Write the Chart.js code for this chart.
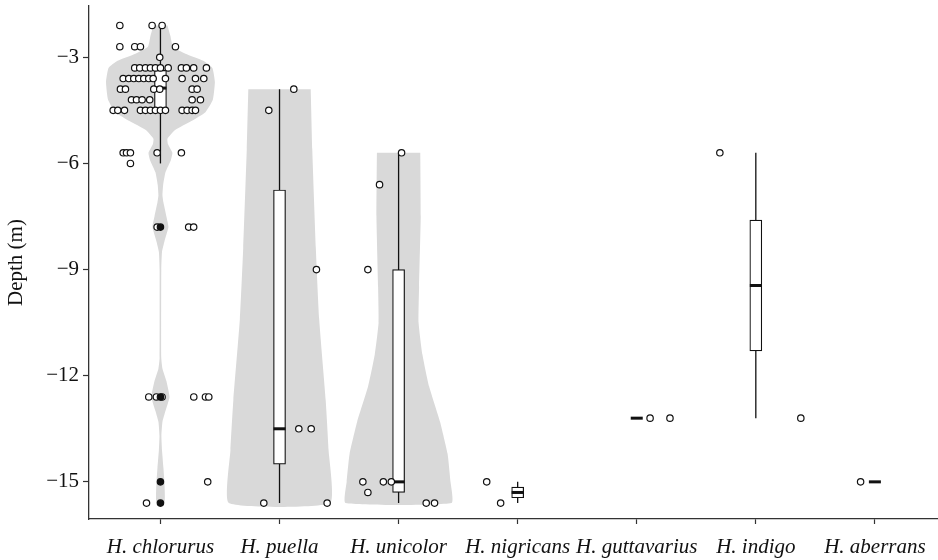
<!DOCTYPE html>
<html>
<head>
<meta charset="utf-8">
<script src="https://cdn.jsdelivr.net/npm/chart.js@4.4.0/dist/chart.umd.min.js"></script>
<style>
  html, body { margin: 0; padding: 0; background: #fff; overflow: hidden; }
  #wrap { width: 938px; height: 560px; position: relative; }
</style>
</head>
<body>
<div id="wrap"><canvas id="chart"></canvas></div>
<script>
const species = ['H. chlorurus', 'H. puella', 'H. unicolor', 'H. nigricans', 'H. guttavarius', 'H. indigo', 'H. aberrans'];
const depthTicks = [-15, -12, -9, -6, -3];

// box plot stats per species (whisker ends, quartiles, median)
const whiskerLow  = [-6.0, -15.6, -15.6, -15.6, -13.2, -13.2, -15.0];
const boxQ1       = [-4.55, -14.5, -15.3, -15.45, -13.2, -11.3, -15.0];
const boxMedian   = [-3.87, -13.5, -15.0, -15.3, -13.2, -9.45, -15.0];
const boxQ3       = [-3.37, -6.75, -9.0, -15.15, -13.2, -7.6, -15.0];
const whiskerHigh = [-2.1, -3.9, -5.7, -15.0, -13.2, -5.7, -15.0];
const chlorurusOutliers = [-7.8, -12.6, -15.0, -15.6];

// violin half widths (category units) at depths
const chlorurusViolinDepth = [-2.1, -2.4, -2.7, -2.9, -3.1, -3.3, -3.7, -4.2, -4.55, -4.8, -5.05, -5.3, -5.45, -5.7, -5.9, -6.25, -6.6, -6.9, -7.1, -7.5, -7.8, -8.2, -8.5, -9.0, -11.5, -11.8, -12.15, -12.6, -13.0, -13.3, -13.7, -14.1, -14.6, -15.05, -15.6];
const chlorurusViolinHalf  = [0.059, 0.084, 0.105, 0.21, 0.36, 0.436, 0.457, 0.44, 0.378, 0.26, 0.126, 0.059, 0.063, 0.10, 0.088, 0.042, 0.023, 0.017, 0.025, 0.05, 0.067, 0.034, 0.013, 0.007, 0.007, 0.017, 0.05, 0.076, 0.042, 0.017, 0.008, 0.013, 0.025, 0.034, 0.034];
const puellaViolinDepth = [-3.9, -5.6, -8.4, -10.4, -12.7, -14.1, -15.6];
const puellaViolinHalf  = [0.262, 0.275, 0.305, 0.333, 0.388, 0.412, 0.425];
const unicolorViolinDepth = [-5.7, -7.5, -9.5, -10.5, -11.4, -12.3, -13.3, -14.2, -15.0, -15.6];
const unicolorViolinHalf  = [0.182, 0.186, 0.172, 0.168, 0.2, 0.256, 0.348, 0.411, 0.436, 0.445];

// jittered observations: depth and horizontal offset from the category
const chlorurusDepth = [-2.1, -2.1, -2.1, -2.7, -2.7, -2.7, -2.7, -3.0,
  -3.3, -3.3, -3.3, -3.3, -3.3, -3.3, -3.3, -3.3, -3.3, -3.3, -3.3,
  -3.6, -3.6, -3.6, -3.6, -3.6, -3.6, -3.6, -3.6, -3.6, -3.6, -3.6,
  -3.9, -3.9, -3.9, -3.9, -3.9, -3.9,
  -4.2, -4.2, -4.2, -4.2, -4.2, -4.2,
  -4.5, -4.5, -4.5, -4.5, -4.5, -4.5, -4.5, -4.5, -4.5, -4.5, -4.5, -4.5, -4.5,
  -5.7, -5.7, -5.7, -5.7, -5.7, -6.0,
  -7.8, -7.8, -7.8,
  -12.6, -12.6, -12.6, -12.6, -12.6, -12.6,
  -15.0, -15.6];
const chlorurusOffset = [-0.341, -0.070, 0.014, -0.341, -0.216, -0.168, 0.126, -0.006,
  -0.216, -0.174, -0.126, -0.084, -0.042, 0, 0.065, 0.176, 0.218, 0.279, 0.386,
  -0.313, -0.266, -0.224, -0.182, -0.140, -0.098, -0.061, 0.042, 0.182, 0.294, 0.364,
  -0.336, -0.294, -0.056, -0.006, 0.266, 0.308,
  -0.243, -0.201, -0.154, -0.090, 0.266, 0.336,
  -0.397, -0.358, -0.302, -0.168, -0.126, -0.084, -0.042, 0, 0.042, 0.182, 0.224, 0.266, 0.294,
  -0.313, -0.285, -0.252, -0.028, 0.176, -0.252,
  -0.028, 0.237, 0.279,
  -0.098, -0.034, 0.014, 0.280, 0.378, 0.406,
  0.397, -0.117];
const puellaDepth  = [-3.9, -4.5, -9.0, -13.5, -13.5, -15.6, -15.6];
const puellaOffset = [0.12, -0.09, 0.31, 0.162, 0.266, -0.132, 0.40];
const unicolorDepth  = [-5.7, -6.6, -9.0, -15.0, -15.0, -15.0, -15.3, -15.6, -15.6];
const unicolorOffset = [0.025, -0.16, -0.258, -0.30, -0.128, -0.061, -0.258, 0.232, 0.302];
const nigricansDepth  = [-15.0, -15.6];
const nigricansOffset = [-0.26, -0.143];
const guttavariusDepth  = [-13.2, -13.2];
const guttavariusOffset = [0.112, 0.279];
const indigoDepth  = [-5.7, -13.2];
const indigoOffset = [-0.302, 0.378];
const aberransDepth  = [-15.0];
const aberransOffset = [-0.12];

const jitterGroups = [
  [chlorurusDepth, chlorurusOffset], [puellaDepth, puellaOffset], [unicolorDepth, unicolorOffset],
  [nigricansDepth, nigricansOffset], [guttavariusDepth, guttavariusOffset],
  [indigoDepth, indigoOffset], [aberransDepth, aberransOffset]
];
const violins = [
  [0, chlorurusViolinDepth, chlorurusViolinHalf],
  [1, puellaViolinDepth, puellaViolinHalf],
  [2, unicolorViolinDepth, unicolorViolinHalf]
];

const INK = '#111';
const GREY = '#d9d9d9';
const serif = 'Liberation Serif';

function outline(cat, depth, half) {
  const right = depth.map((d, k) => ({ x: cat + half[k], y: d }));
  const left = depth.map((d, k) => ({ x: cat - half[k], y: d })).reverse();
  return right.concat(left);
}

const datasets = [];

violins.forEach(([cat, depth, half]) => {
  datasets.push({
    type: 'line', data: outline(cat, depth, half), fill: 'shape',
    backgroundColor: GREY, borderColor: GREY, borderWidth: 0,
    pointRadius: 0, tension: 0.15, order: 6
  });
});

species.forEach((s, i) => {
  datasets.push({
    type: 'line', data: [{ x: i, y: whiskerLow[i] }, { x: i, y: whiskerHigh[i] }],
    borderColor: INK, borderWidth: 1.3, pointRadius: 0, fill: false, order: 5
  });
});

datasets.push({
  type: 'bar',
  data: species.map((s, i) => ({ x: i, y: [boxQ1[i], boxQ3[i]] })).filter(d => d.y[0] !== d.y[1]),
  backgroundColor: '#fff', borderColor: INK, borderWidth: 1.2, borderSkipped: false,
  barThickness: 12, order: 4
});

datasets.push({
  type: 'scatter', data: species.map((s, i) => ({ x: i, y: boxMedian[i] })),
  pointStyle: 'line', pointRadius: 6, pointBorderWidth: 3, pointBorderColor: INK, order: 3
});

const jitterData = [];
jitterGroups.forEach(([depth, offset], i) => {
  depth.forEach((d, k) => jitterData.push({ x: i + offset[k], y: d }));
});
datasets.push({
  type: 'scatter', data: jitterData, pointRadius: 3.2, pointBorderWidth: 1.2,
  pointBackgroundColor: '#fff', pointBorderColor: INK, order: 2
});

datasets.push({
  type: 'scatter', data: chlorurusOutliers.map(d => ({ x: 0, y: d })), pointRadius: 3.2,
  pointBorderWidth: 1.2, pointBackgroundColor: INK, pointBorderColor: INK, order: 1
});

new Chart(document.getElementById('chart'), {
  type: 'scatter',
  data: { datasets },
  options: {
    responsive: true,
    maintainAspectRatio: false,
    animation: false,
    events: [],
    layout: { autoPadding: false, padding: { top: 6, right: 0, left: 0, bottom: 0 } },
    plugins: { legend: { display: false }, tooltip: { enabled: false } },
    scales: {
      x: {
        type: 'linear', min: -0.6, max: 6.53, offset: false,
        afterBuildTicks: scale => { scale.ticks = species.map((s, i) => ({ value: i })); },
        afterFit: scale => { scale.height = 41; scale.paddingLeft = 0; scale.paddingRight = 0; },
        ticks: {
          callback: v => species[v], color: INK, padding: 11, maxRotation: 0, autoSkip: false,
          font: { family: serif, size: 21, style: 'italic' }
        },
        grid: { display: true, offset: false, drawOnChartArea: false, drawTicks: true, tickLength: 5, tickColor: '#333', tickWidth: 1.2 },
        border: { display: true, color: '#333', width: 1.3 }
      },
      y: {
        type: 'linear', min: -16.05, max: -1.55,
        afterBuildTicks: scale => { scale.ticks = depthTicks.map(v => ({ value: v })); },
        afterFit: scale => { scale.width = 89; scale.paddingTop = 0; scale.paddingBottom = 0; },
        ticks: {
          callback: v => '\u2212' + Math.abs(v), color: INK, padding: 4,
          font: { family: serif, size: 21 }
        },
        title: {
          display: true, text: 'Depth (m)', color: INK, padding: { top: 4, bottom: 0 },
          font: { family: serif, size: 21 }
        },
        grid: { display: true, drawOnChartArea: false, drawTicks: true, tickLength: 6, tickColor: '#333', tickWidth: 1.2 },
        border: { display: true, color: '#333', width: 1.3 }
      }
    }
  }
});
</script>
</body>
</html>
